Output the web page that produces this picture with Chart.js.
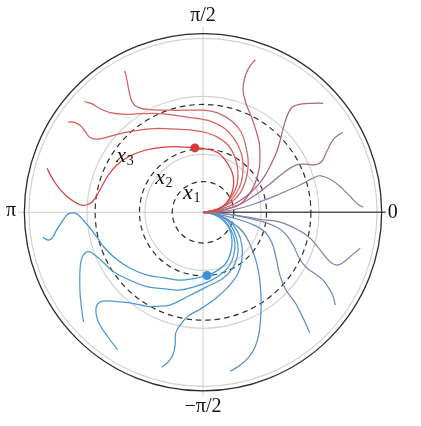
<!DOCTYPE html>
<html>
<head>
<meta charset="utf-8">
<script src="https://cdn.jsdelivr.net/npm/chart.js@4/dist/chart.umd.min.js"></script>
<style>
html,body{margin:0;padding:0;background:#fff;}
canvas{display:block;}
</style>
</head>
<body>
<canvas id="c" width="421" height="426"></canvas>
<script>
// ---- data (cartesian, in units of the radial grid) ----
const angleLabels = ["0", "π/2", "π", "−π/2"];
const gridRadii = [1, 2, 3];
const boundaryRadius = 3.08;
const levelRadii = [0.53, 1.095, 1.86];
const levelLabels = ["1", "2", "3"];

const curveD = [[0,0],[0.17,0.02],[0.33,0.09],[0.45,0.23],[0.52,0.42],[0.52,0.63],[0.43,0.83],[0.28,1.01],[0.07,1.09],[-0.14,1.11],[-0.40,1.13],[-0.71,1.12],[-1.00,1.07],[-1.26,0.97],[-1.48,0.82],[-1.64,0.63],[-1.78,0.38],[-1.90,0.19],[-2.00,0.13],[-2.12,0.13],[-2.29,0.23],[-2.47,0.40],[-2.60,0.59],[-2.69,0.76]];
const curveC = [[0,0],[0.19,0.03],[0.38,0.13],[0.50,0.28],[0.59,0.49],[0.60,0.73],[0.55,0.95],[0.43,1.16],[0.24,1.30],[0.03,1.38],[-0.22,1.42],[-0.57,1.44],[-0.91,1.44],[-1.38,1.37],[-1.64,1.30],[-1.83,1.26],[-1.95,1.29],[-2.03,1.39],[-2.12,1.50],[-2.22,1.55],[-2.33,1.56]];
const curveB = [[0,0],[0.21,0.04],[0.41,0.14],[0.57,0.32],[0.66,0.52],[0.69,0.76],[0.66,1.02],[0.55,1.25],[0.38,1.44],[0.16,1.56],[-0.05,1.61],[-0.40,1.66],[-0.74,1.70],[-1.09,1.70],[-1.34,1.69],[-1.60,1.72],[-1.78,1.79],[-1.91,1.87],[-2.05,1.91]];
const curveA = [[0,0],[0.22,0.05],[0.47,0.16],[0.64,0.33],[0.74,0.57],[0.78,0.85],[0.74,1.13],[0.66,1.38],[0.50,1.57],[0.26,1.71],[0,1.76],[-0.22,1.76],[-0.57,1.76],[-0.91,1.77],[-1.12,1.81],[-1.22,1.90],[-1.28,2.11],[-1.31,2.28],[-1.35,2.44]];
const curveE = [[0,0],[0.21,0.01],[0.43,0.06],[0.64,0.14],[0.79,0.30],[0.90,0.51],[0.97,0.76],[0.98,0.99],[0.97,1.19],[0.91,1.42],[0.83,1.66],[0.74,1.88],[0.69,2.11],[0.72,2.32],[0.79,2.49],[0.90,2.63]];
const curveF = [[0,0],[0.29,0.05],[0.57,0.16],[0.81,0.33],[1.02,0.56],[1.17,0.82],[1.28,1.07],[1.34,1.28],[1.40,1.51],[1.47,1.71],[1.55,1.82],[1.71,1.87],[1.88,1.88],[2.07,1.88]];
const curveG = [[0,0],[0.29,0.03],[0.64,0.14],[0.95,0.33],[1.19,0.52],[1.40,0.69],[1.59,0.81],[1.76,0.83],[1.95,0.82],[2.05,0.88],[2.14,1.06],[2.24,1.25],[2.33,1.33],[2.41,1.38]];
const curveH = [[0,0],[0.29,0.01],[0.64,0.07],[0.98,0.18],[1.33,0.32],[1.67,0.47],[1.90,0.59],[2.03,0.63],[2.19,0.57],[2.36,0.45],[2.53,0.28],[2.67,0.14],[2.76,0.09]];
const curveP = [[0,0],[0.29,-0.02],[0.64,-0.06],[0.98,-0.12],[1.33,-0.17],[1.67,-0.32],[1.84,-0.44],[1.98,-0.60],[2.10,-0.75],[2.21,-0.87],[2.31,-0.91],[2.41,-0.87],[2.53,-0.77],[2.71,-0.62]];
const curveO = [[0,0],[0.29,-0.02],[0.64,-0.07],[0.98,-0.15],[1.24,-0.24],[1.41,-0.36],[1.55,-0.56],[1.67,-0.81],[1.79,-0.96],[1.93,-1.06],[2.07,-1.17],[2.17,-1.31],[2.24,-1.44],[2.28,-1.60]];
const curveN = [[0,0],[0.29,-0.04],[0.60,-0.12],[0.88,-0.22],[1.07,-0.34],[1.19,-0.53],[1.26,-0.79],[1.33,-1.10],[1.43,-1.34],[1.59,-1.56],[1.71,-1.79],[1.79,-1.96],[1.84,-2.08]];
const curveM = [[0,0],[0.26,-0.05],[0.50,-0.17],[0.69,-0.34],[0.81,-0.55],[0.91,-0.82],[0.97,-1.10],[1.00,-1.43],[1.00,-1.72],[0.97,-2.06],[0.90,-2.32],[0.78,-2.51],[0.62,-2.65],[0.47,-2.74]];
const curveL = [[0,0],[0.21,-0.03],[0.43,-0.13],[0.59,-0.32],[0.67,-0.56],[0.67,-0.82],[0.60,-1.06],[0.43,-1.29],[0.21,-1.49],[-0.05,-1.67],[-0.26,-1.79],[-0.38,-1.93],[-0.47,-2.08],[-0.48,-2.29],[-0.52,-2.46],[-0.60,-2.58],[-0.71,-2.67]];
const curveK = [[0,0],[0.19,-0.03],[0.40,-0.13],[0.53,-0.32],[0.60,-0.55],[0.59,-0.77],[0.50,-0.98],[0.33,-1.15],[0.05,-1.29],[-0.22,-1.43],[-0.57,-1.60],[-0.78,-1.62],[-0.97,-1.62],[-1.26,-1.56],[-1.48,-1.54],[-1.72,-1.53],[-1.83,-1.60],[-1.84,-1.77],[-1.78,-1.94],[-1.64,-2.15],[-1.47,-2.37]];
const curveJ = [[0,0],[0.19,-0.03],[0.36,-0.13],[0.48,-0.30],[0.55,-0.51],[0.53,-0.74],[0.45,-0.93],[0.29,-1.08],[0.09,-1.20],[-0.14,-1.28],[-0.40,-1.34],[-0.66,-1.32],[-0.97,-1.28],[-1.26,-1.17],[-1.55,-1.02],[-1.72,-0.86],[-1.86,-0.74],[-1.98,-0.68],[-2.08,-0.77],[-2.12,-0.99],[-2.12,-1.39],[-2.09,-1.68],[-2.06,-1.89]];
const curveI = [[0,0],[0.17,-0.03],[0.33,-0.12],[0.45,-0.27],[0.50,-0.48],[0.48,-0.68],[0.40,-0.87],[0.24,-1.01],[0.07,-1.09],[-0.14,-1.14],[-0.40,-1.17],[-0.66,-1.13],[-0.97,-1.08],[-1.26,-0.96],[-1.48,-0.82],[-1.69,-0.62],[-1.83,-0.43],[-1.95,-0.27],[-2.07,-0.13],[-2.17,-0.03],[-2.24,-0.01],[-2.33,-0.03],[-2.41,-0.13],[-2.52,-0.30],[-2.60,-0.44],[-2.67,-0.48],[-2.76,-0.43]];

const redPoint = [[-0.14, 1.11]];
const bluePoint = [[0.07, -1.09]];

// ---- styles ----
const curves = [curveD, curveC, curveB, curveA, curveE, curveF, curveG, curveH, curveP, curveO, curveN, curveM, curveL, curveK, curveJ, curveI];
const curveColors = ['#d8403e','#dc5c5a','#d96462','#d46464','#bf5e6e','#a8667f','#9a7293','#9180a8','#8384ab','#7886b3','#6a89bd','#5a8dc9','#4c96d5','#4b99d8','#4b99d8','#3e94d9'];

const toXY = arr => arr.map(p => ({x: p[0], y: p[1]}));

const datasets = curves.map((c, i) => ({
  data: toXY(c),
  showLine: true,
  borderColor: curveColors[i],
  borderWidth: 1.25,
  pointRadius: 0,
  tension: 0.4,
  fill: false,
  order: 2
}));
datasets.push({data: toXY(redPoint), pointRadius: 4.5, pointBackgroundColor: '#d93b3b', pointBorderWidth: 0, showLine: false, order: 1});
datasets.push({data: toXY(bluePoint), pointRadius: 4.5, pointBackgroundColor: '#3b90d8', pointBorderWidth: 0, showLine: false, order: 1});

const polarGrid = {
  id: 'polarGrid',
  beforeDatasetsDraw(chart) {
    const ctx = chart.ctx, xs = chart.scales.x, ys = chart.scales.y;
    const cx = xs.getPixelForValue(0), cy = ys.getPixelForValue(0);
    const u = xs.getPixelForValue(1) - cx;
    ctx.save();
    ctx.strokeStyle = '#d2d2d2'; ctx.lineWidth = 1.2;
    gridRadii.forEach(r => { ctx.beginPath(); ctx.arc(cx, cy, r*u, 0, Math.PI*2); ctx.stroke(); });
    ctx.strokeStyle = '#cdcdcd'; ctx.lineWidth = 1;
    ctx.beginPath();
    ctx.moveTo(cx, cy - 3.2*u); ctx.lineTo(cx, cy + 3.16*u);
    ctx.moveTo(cx - 3.18*u, cy); ctx.lineTo(cx, cy);
    ctx.stroke();
    ctx.strokeStyle = '#555'; ctx.lineWidth = 1.4;
    ctx.beginPath(); ctx.moveTo(cx, cy); ctx.lineTo(cx + 3.15*u, cy); ctx.stroke();
    ctx.strokeStyle = '#2e2e2e'; ctx.lineWidth = 1.2; ctx.setLineDash([5.5, 4]);
    levelRadii.forEach(r => { ctx.beginPath(); ctx.arc(cx, cy, r*u, 0, Math.PI*2); ctx.stroke(); });
    ctx.setLineDash([]);
    ctx.strokeStyle = '#2b2b2b'; ctx.lineWidth = 1.3;
    ctx.beginPath(); ctx.arc(cx, cy, boundaryRadius*u, 0, Math.PI*2); ctx.stroke();
    ctx.restore();
  },
  afterDraw(chart) {
    const ctx = chart.ctx, xs = chart.scales.x, ys = chart.scales.y;
    const px = v => xs.getPixelForValue(v), py = v => ys.getPixelForValue(v);
    ctx.save();
    ctx.fillStyle = '#111';
    ctx.textAlign = 'center'; ctx.textBaseline = 'middle';
    ctx.font = '20px "Liberation Serif", "DejaVu Serif", serif';
    ctx.fillText(angleLabels[0], px(3.27), py(0));
    ctx.fillText(angleLabels[1], px(0), py(3.39));
    ctx.fillText(angleLabels[2], px(-3.31), py(0.03));
    ctx.fillText(angleLabels[3], px(0), py(-3.36));
    const pos = [[-0.26, 0.33], [-0.74, 0.59], [-1.41, 0.97]];
    levelLabels.forEach((s, i) => {
      const x = px(pos[i][0]), y = py(pos[i][1]);
      ctx.font = 'italic 22px "Liberation Serif", "DejaVu Serif", serif';
      ctx.fillText('x', x, y);
      ctx.font = '14px "Liberation Serif", "DejaVu Serif", serif';
      ctx.fillText(s, x + 9, y + 5);
    });
    ctx.restore();
  }
};

new Chart(document.getElementById('c'), {
  type: 'scatter',
  data: { datasets },
  options: {
    responsive: false,
    animation: false,
    devicePixelRatio: 1,
    layout: { padding: { left: 11.6, right: 26.6, top: 20.9, bottom: 22.3 } },
    plugins: { legend: { display: false }, tooltip: { enabled: false } },
    scales: {
      x: { type: 'linear', min: -3.3, max: 3.3, display: false },
      y: { type: 'linear', min: -3.3, max: 3.3, display: false }
    }
  },
  plugins: [polarGrid]
});
</script>
</body>
</html>
